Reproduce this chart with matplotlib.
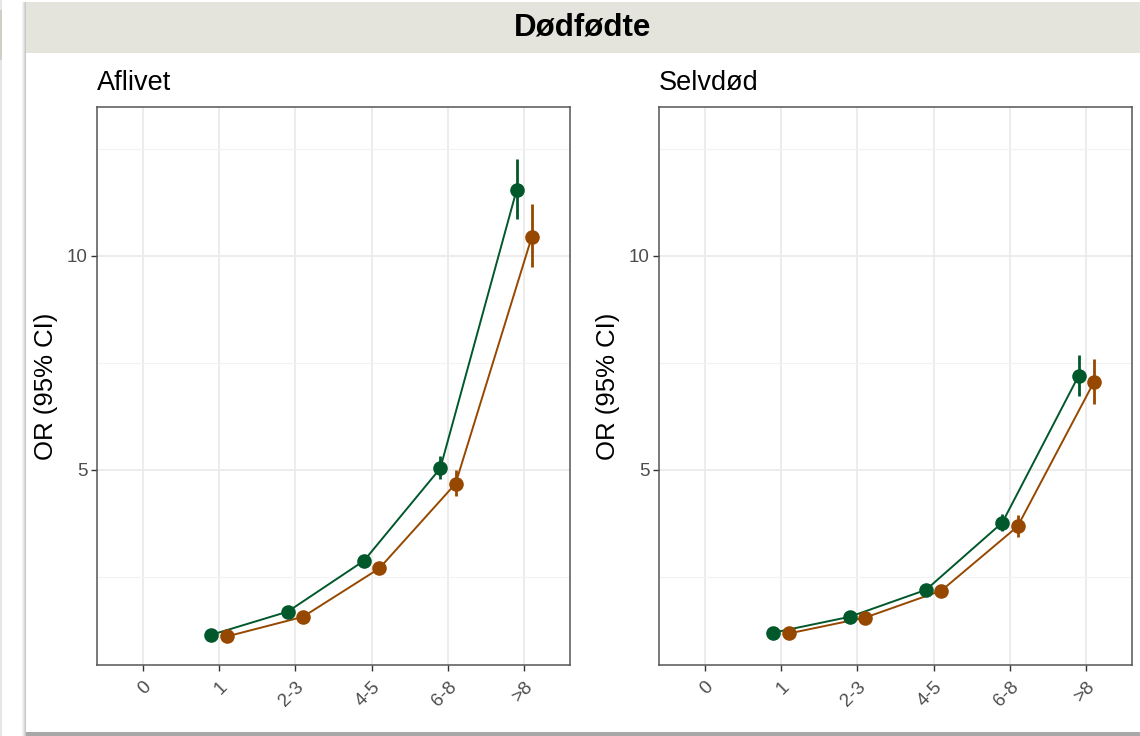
import matplotlib
matplotlib.use("Agg")
import matplotlib.pyplot as plt
from matplotlib.patches import Rectangle
import numpy as np

plt.rcParams['font.family'] = ['Liberation Sans', 'DejaVu Sans']

categories = ["0", "1", "2-3", "4-5", "6-8", ">8"]
strip_title = "Dødfødte"
panel_titles = ["Aflivet", "Selvdød"]
ylabel = "OR (95% CI)"

# Panel 1: Aflivet  (categories 1..>8)
afl_green = [1.15, 1.69, 2.88, 5.04, 11.54]
afl_green_lo = [1.10, 1.62, 2.78, 4.78, 10.86]
afl_green_hi = [1.20, 1.76, 2.98, 5.33, 12.26]
afl_brown = [1.11, 1.57, 2.70, 4.68, 10.45]
afl_brown_lo = [1.06, 1.50, 2.60, 4.40, 9.74]
afl_brown_hi = [1.16, 1.64, 2.80, 5.00, 11.21]

# Panel 2: Selvdød
sel_green = [1.20, 1.57, 2.20, 3.77, 7.20]
sel_green_lo = [1.15, 1.50, 2.12, 3.57, 6.74]
sel_green_hi = [1.25, 1.64, 2.28, 3.97, 7.69]
sel_brown = [1.18, 1.55, 2.18, 3.68, 7.05]
sel_brown_lo = [1.13, 1.48, 2.10, 3.44, 6.53]
sel_brown_hi = [1.23, 1.62, 2.26, 3.94, 7.59]

green = "#00582B"
brown = "#964800"

W, H = 1140, 736
fig = plt.figure(figsize=(W / 100, H / 100), dpi=100)

def px_rect(x0, y0, x1, y1, **kw):
    r = Rectangle((x0 / W, 1 - y1 / H), (x1 - x0) / W, (y1 - y0) / H,
                  transform=fig.transFigure, zorder=-10, **kw)
    fig.patches.append(r)

# decorative frame
px_rect(0, 0, W, H, facecolor="white", edgecolor="none")
px_rect(0, 0, 2, H, facecolor="#E6E6E6", edgecolor="none")
px_rect(0, 10, 2, 60, facecolor="#CFCFC8", edgecolor="none")
for i, c in enumerate(["#F4F4F4", "#E8E8E8", "#D8D8D8", "#C8C8C8"]):
    px_rect(22 + i, 2, 23 + i, 736, facecolor=c, edgecolor="none")
px_rect(26, 732, W, H, facecolor="#A8A8A8", edgecolor="none")
px_rect(26, 2, W, 732, facecolor="white", edgecolor="none")
px_rect(26, 2, W, 53, facecolor="#E4E4DD", edgecolor="none")
fig.text(583 / W, 1 - 27 / H, strip_title, ha="center", va="center",
         fontsize=22.5, fontweight="bold", color="black")

ymin, ymax = 0.444, 13.48
xpos = np.arange(len(categories))
dodge = 0.1

panels = [
    (97, panel_titles[0], afl_green, afl_green_lo, afl_green_hi,
     afl_brown, afl_brown_lo, afl_brown_hi),
    (659, panel_titles[1], sel_green, sel_green_lo, sel_green_hi,
     sel_brown, sel_brown_lo, sel_brown_hi),
]

for left, title, g, glo, ghi, b, blo, bhi in panels:
    ax = fig.add_axes([left / W, 1 - 665 / H, 473 / W, 558 / H])
    ax.set_facecolor("white")
    ax.set_xlim(-0.6, 5.6)
    ax.set_ylim(ymin, ymax)
    ax.set_xticks(xpos)
    ax.set_xticklabels(categories, rotation=45, ha="right", va="top",
                       rotation_mode="anchor", fontsize=13.5, color="#4D4D4D")
    ax.set_yticks([5, 10])
    ax.set_yticklabels(["5", "10"], fontsize=13.5, color="#4D4D4D")
    ax.set_yticks([2.5, 7.5, 12.5], minor=True)
    ax.grid(True, which="major", color="#EBEBEB", linewidth=1.3)
    ax.grid(True, which="minor", axis="y", color="#F2F2F2", linewidth=0.8)
    ax.tick_params(axis="both", which="major", length=4.5, width=1,
                   color="#333333", pad=2.5)
    ax.tick_params(axis="x", which="major", pad=5)
    ax.tick_params(axis="y", which="minor", length=0)
    ax.set_axisbelow(True)
    for s in ax.spines.values():
        s.set_color("#555555")
        s.set_linewidth(1.1)
    xs = xpos[1:]
    for vals, lo, hi, col, off in [(g, glo, ghi, green, -dodge),
                                   (b, blo, bhi, brown, dodge)]:
        x = xs + off
        ax.vlines(x, lo, hi, color=col, linewidth=2.0, zorder=3)
        ax.plot(x, vals, color=col, linewidth=1.4, zorder=3)
        ax.plot(x, vals, "o", color=col, markersize=10.5, zorder=4,
                markeredgewidth=0)
    ax.set_title(title, loc="left", fontsize=19.5, pad=12, color="black")
    ax.set_ylabel(ylabel, fontsize=18.5, color="black", labelpad=6)

fig.savefig("out.png", dpi=100)
